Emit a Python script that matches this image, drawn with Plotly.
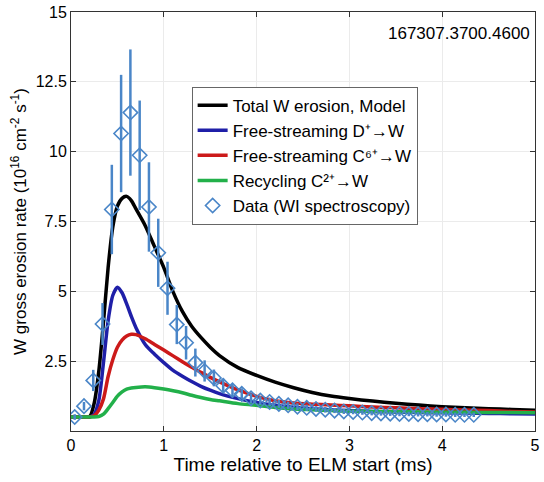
import plotly.graph_objects as go

# ---- Model curves ----
t_model = [0.0, 0.1, 0.2, 0.25, 0.3, 0.35, 0.4, 0.45, 0.5, 0.55, 0.6, 0.65, 0.7, 0.8, 0.9,
           1.0, 1.1, 1.2, 1.3, 1.4, 1.5, 1.6, 1.8, 2.0, 2.2, 2.4, 2.6, 2.8, 3.0, 3.25,
           3.5, 3.75, 4.0, 4.25, 4.5, 4.75, 5.0]
total_w = [0.5, 0.5, 0.51, 1.0, 2.15, 3.9, 5.85, 7.3, 8.05, 8.33, 8.4, 8.25, 7.95, 7.35, 6.6,
           5.85, 4.98, 4.28, 3.75, 3.35, 3.0, 2.7, 2.27, 1.99, 1.75, 1.55, 1.38, 1.25, 1.16, 1.07,
           0.99, 0.93, 0.87, 0.83, 0.8, 0.77, 0.74]
d_plus = [0.5, 0.5, 0.5, 0.6, 1.1, 2.45, 3.95, 4.85, 5.15, 4.95, 4.55, 4.1, 3.7, 3.1, 2.75,
          2.45, 2.17, 1.96, 1.77, 1.6, 1.46, 1.34, 1.16, 1.02, 0.92, 0.85, 0.8, 0.76, 0.73, 0.7,
          0.68, 0.66, 0.65, 0.64, 0.63, 0.62, 0.61]
c6_plus = [0.5, 0.5, 0.5, 0.55, 0.75, 1.15, 1.95, 2.55, 3.0, 3.25, 3.4, 3.46, 3.45, 3.3, 3.1,
           2.9, 2.69, 2.48, 2.28, 2.1, 1.92, 1.76, 1.47, 1.24, 1.08, 1.0, 0.96, 0.93, 0.9, 0.86,
           0.83, 0.8, 0.78, 0.75, 0.73, 0.7, 0.68]
c2_plus = [0.5, 0.5, 0.5, 0.5, 0.52, 0.6, 0.8, 1.02, 1.25, 1.4, 1.5, 1.54, 1.56, 1.58, 1.55,
           1.5, 1.44, 1.37, 1.28, 1.2, 1.13, 1.08, 0.98, 0.92, 0.84, 0.79, 0.76, 0.73, 0.71, 0.7,
           0.69, 0.68, 0.67, 0.67, 0.66, 0.66, 0.65]

# ---- Data (WI spectroscopy) ----
t_data = [0.04, 0.14, 0.24, 0.34, 0.44, 0.54, 0.64, 0.74, 0.84, 0.94, 1.04, 1.14, 1.24, 1.34,
          1.44, 1.54, 1.64, 1.74, 1.84, 1.94, 2.04, 2.14, 2.24, 2.34, 2.44, 2.54, 2.64, 2.74,
          2.84, 2.94, 3.04, 3.14, 3.24, 3.34, 3.44, 3.54, 3.64, 3.74, 3.84, 3.94, 4.04, 4.14,
          4.24, 4.34]
y_data = [0.50, 0.89, 1.81, 3.83, 7.93, 10.65, 11.40, 9.87, 8.02, 6.38, 5.11, 3.81, 3.16, 2.45,
          2.15, 1.90, 1.62, 1.46, 1.33, 1.17, 1.09, 1.04, 0.97, 0.92, 0.87, 0.83, 0.79, 0.76,
          0.73, 0.70, 0.68, 0.66, 0.64, 0.63, 0.62, 0.61, 0.61, 0.60, 0.60, 0.59, 0.59, 0.58,
          0.58, 0.58]
err_data = [0.1, 0.15, 0.38, 0.75, 1.6, 2.1, 2.26, 1.96, 1.6, 1.22, 0.95, 0.7, 0.6, 0.5,
            0.38, 0.3, 0.25, 0.22, 0.2, 0.18, 0.16, 0.15, 0.14, 0.13, 0.12, 0.11, 0.1, 0.1,
            0.09, 0.09, 0.08, 0.08, 0.08, 0.08, 0.08, 0.08, 0.08, 0.08, 0.08, 0.08, 0.08, 0.08,
            0.08, 0.08]

x_ticks = [0, 1, 2, 3, 4, 5]
y_ticks = [2.5, 5, 7.5, 10, 12.5, 15]
y_ticklabels = ["2.5", "5", "7.5", "10", "12.5", "15"]

FONT = "Liberation Sans, Arial, sans-serif"

fig = go.Figure()
line_specs = [
    (total_w, "Total W erosion, Model", "#000000"),
    (d_plus, "Free-streaming D\u207a\u2192W", "#1f1fa8"),
    (c6_plus, "Free-streaming C\u2076\u207a\u2192W", "#cc1a1a"),
    (c2_plus, "Recycling C\u00b2\u207a\u2192W", "#22b04a"),
]
for ys, name, col in line_specs:
    fig.add_trace(go.Scatter(x=t_model, y=ys, mode="lines", name=name,
                             line=dict(color=col, width=3.5, shape="spline", smoothing=0.7)))

fig.add_trace(go.Scatter(
    x=t_data, y=y_data, mode="markers", name="Data (WI spectroscopy)",
    marker=dict(symbol="diamond-open", size=11, color="#4a86c8", line=dict(width=1.6, color="#4a86c8")),
    error_y=dict(type="data", array=err_data, visible=True, color="#4a86c8", thickness=2.5, width=0),
))

fig.add_annotation(text="167307.3700.4600", x=0.993, y=0.948, xref="paper", yref="paper",
                   xanchor="right", yanchor="middle", showarrow=False,
                   font=dict(size=17, color="#000000", family=FONT))

fig.update_layout(
    width=544, height=482,
    margin=dict(l=71, r=4, t=10, b=51),
    paper_bgcolor="white", plot_bgcolor="white",
    font=dict(family=FONT, color="#000000"),
    showlegend=True,
    legend=dict(x=0.26, y=0.822, xanchor="left", yanchor="top",
                bgcolor="white", bordercolor="#666666", borderwidth=1,
                font=dict(size=17, family=FONT), tracegroupgap=0),
)
fig.update_xaxes(
    range=[0, 5], tickvals=x_ticks, ticktext=[str(v) for v in x_ticks],
    showgrid=True, gridcolor="#ebebeb", gridwidth=1,
    showline=True, linecolor="#333333", linewidth=1, mirror="ticks",
    ticks="inside", ticklen=5, tickcolor="#333333",
    tickfont=dict(size=16, family=FONT),
    title=dict(text="Time relative to ELM start (ms)", font=dict(size=19, family=FONT), standoff=4),
    zeroline=False,
)
fig.update_yaxes(
    range=[0, 15], tickvals=y_ticks, ticktext=y_ticklabels,
    showgrid=True, gridcolor="#ebebeb", gridwidth=1,
    showline=True, linecolor="#333333", linewidth=1, mirror="ticks",
    ticks="inside", ticklen=5, tickcolor="#333333",
    tickfont=dict(size=16, family=FONT),
    title=dict(text="W gross erosion rate (10<sup>16</sup> cm<sup>-2</sup> s<sup>-1</sup>)",
               font=dict(size=17, family=FONT), standoff=4),
    zeroline=False,
)

fig.write_html("out.html")
